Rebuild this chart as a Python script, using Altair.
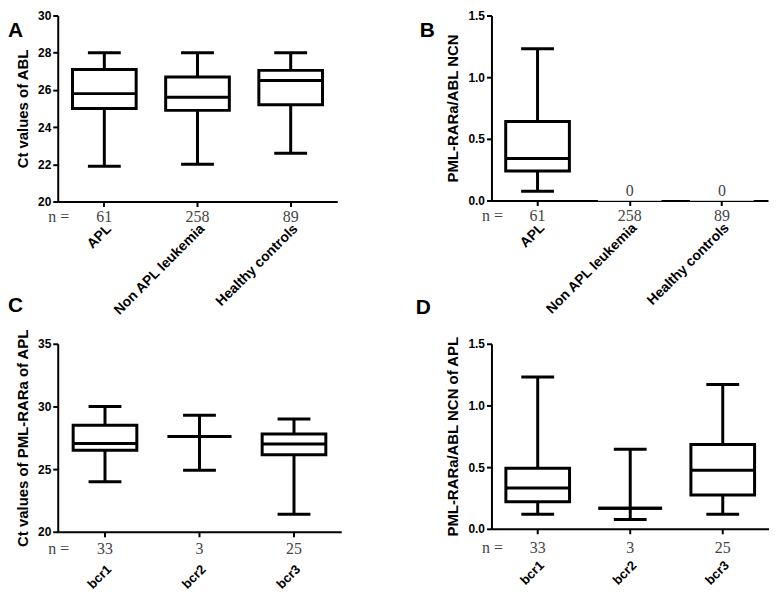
import altair as alt
import pandas as pd

# ---- Panel A: Ct values of ABL ----
a_groups = ["APL", "Non APL leukemia", "Healthy controls"]
a_min = [21.9, 22.0, 22.6]
a_q1 = [25.0, 24.9, 25.2]
a_med = [25.8, 25.6, 26.5]
a_q3 = [27.1, 26.7, 27.05]
a_max = [28.0, 28.0, 28.0]
a_n = [61, 258, 89]

# ---- Panel B: PML-RARa/ABL NCN ----
b_groups = ["APL", "Non APL leukemia", "Healthy controls"]
b_min = [0.075, 0.0, 0.0]
b_q1 = [0.24, 0.0, 0.0]
b_med = [0.34, 0.0, 0.0]
b_q3 = [0.64, 0.0, 0.0]
b_max = [1.23, 0.0, 0.0]
b_n = [61, 258, 89]
b_box = [True, False, False]

# ---- Panel C: Ct values of PML-RARa of APL ----
c_groups = ["bcr1", "bcr2", "bcr3"]
c_min = [24.0, 24.9, 21.4]
c_q1 = [26.5, 27.6, 26.15]
c_med = [27.05, 27.6, 27.0]
c_q3 = [28.5, 27.6, 27.8]
c_max = [30.0, 29.3, 29.0]
c_n = [33, 3, 25]

# ---- Panel D: PML-RARa/ABL NCN of APL ----
d_groups = ["bcr1", "bcr2", "bcr3"]
d_min = [0.118, 0.075, 0.118]
d_q1 = [0.22, 0.166, 0.274]
d_med = [0.33, 0.166, 0.475]
d_q3 = [0.49, 0.166, 0.684]
d_max = [1.23, 0.644, 1.17]
d_n = [33, 3, 25]

FONT = "Liberation Sans"
SERIF = "Liberation Serif"


def panel(groups, mins, q1s, meds, q3s, maxs, ns, boxflags, ytitle, domain,
          ticks, fmt, width, height, letter, lx, ly, label_pad, n_off,
          label_size):
    df = pd.DataFrame({
        "group": groups, "min": mins, "q1": q1s, "med": meds, "q3": q3s,
        "max": maxs, "n": [str(v) for v in ns], "box": boxflags,
    })
    x = alt.X("group:N", sort=groups,
              scale=alt.Scale(paddingInner=0.3, paddingOuter=0.15),
              axis=alt.Axis(title=None, labelAngle=-45, labelPadding=label_pad,
                            labelFontSize=label_size))
    yscale = alt.Scale(domain=domain, nice=False, zero=False)
    yaxis = alt.Axis(values=ticks, format=fmt, title=ytitle, titlePadding=7)

    def Y(f):
        return alt.Y(f, scale=yscale, axis=yaxis)

    base = alt.Chart(df)
    boxed = base.transform_filter("datum.box")
    empty = base.transform_filter("!datum.box")

    whisk = boxed.mark_rule(strokeWidth=3, color="black").encode(
        x=x, y=Y("min:Q"), y2="max:Q")
    box = boxed.mark_bar(size=64, fill="white", stroke="black",
                         strokeWidth=3).encode(x=x, y=Y("q1:Q"), y2="q3:Q")
    med = boxed.mark_tick(size=64, thickness=3, color="black",
                          opacity=1).encode(x=x, y=Y("med:Q"))
    cap_lo = boxed.mark_tick(size=33, thickness=3, color="black",
                             opacity=1).encode(x=x, y=Y("min:Q"))
    cap_hi = boxed.mark_tick(size=33, thickness=3, color="black",
                             opacity=1).encode(x=x, y=Y("max:Q"))
    zline = empty.mark_tick(size=64, thickness=1, color="#cccccc",
                            opacity=1).encode(x=x, y=Y("med:Q"))
    ztext = empty.mark_text(font=SERIF, fontSize=16, color="#444444",
                            baseline="alphabetic", dy=-5).encode(
        x=x, y=Y("med:Q"), text=alt.Text("med:Q", format="d"))
    ntext = base.mark_text(font=SERIF, fontSize=16, color="#444444",
                           baseline="alphabetic").encode(
        x=x, y=alt.value(height + n_off), text="n:N")
    nlab = alt.Chart(pd.DataFrame({"t": ["n ="]})).mark_text(
        font=SERIF, fontSize=16, color="#444444", baseline="alphabetic",
        align="center").encode(
        x=alt.value(1), y=alt.value(height + n_off), text="t:N")
    let = alt.Chart(pd.DataFrame({"t": [letter]})).mark_text(
        font=FONT, fontSize=21, fontWeight="bold", color="black",
        baseline="alphabetic", align="left").encode(
        x=alt.value(lx), y=alt.value(ly), text="t:N")

    return alt.layer(whisk, box, med, cap_lo, cap_hi, zline, ztext, ntext,
                     nlab, let).properties(width=width, height=height)


pA = panel(a_groups, a_min, a_q1, a_med, a_q3, a_max, a_n, [True] * 3,
           "Ct values of ABL", [20, 30], [20, 22, 24, 26, 28, 30], "d",
           281, 187, "A", -50, 22, 15, 21, 14)
pB = panel(b_groups, b_min, b_q1, b_med, b_q3, b_max, b_n, b_box,
           "PML-RARa/ABL NCN", [0, 1.5], [0, 0.5, 1.0, 1.5], ".1f",
           278, 186, "B", -72, 22, 15, 21, 14)
pC = panel(c_groups, c_min, c_q1, c_med, c_q3, c_max, c_n, [True] * 3,
           "Ct values of PML-RARa of APL", [20, 35], [20, 25, 30, 35], "d",
           285, 189, "C", -50, -32, 26, 22, 13)
pD = panel(d_groups, d_min, d_q1, d_med, d_q3, d_max, d_n, [True] * 3,
           "PML-RARa/ABL NCN of APL", [0, 1.5], [0, 0.5, 1.0, 1.5], ".1f",
           279, 186, "D", -76, -30, 25, 24, 13)

chart = alt.concat(
    pA, pB, pC, pD, columns=2, spacing={"row": 143, "column": 151},
    bounds="flush"
).properties(
    padding={"left": 0, "top": 0, "right": 0, "bottom": 0}
).configure_view(stroke=None).configure_axis(
    domainColor="black", domainWidth=2, tickColor="black", tickWidth=2,
    tickSize=5, labelFont=FONT, labelFontWeight="bold", labelFontSize=12,
    labelColor="black", titleFont=FONT, titleFontWeight="bold",
    titleFontSize=15, titleColor="black", grid=False, labelPadding=2
)

chart.save("out.html", embed_options={"renderer": "svg", "actions": False})
